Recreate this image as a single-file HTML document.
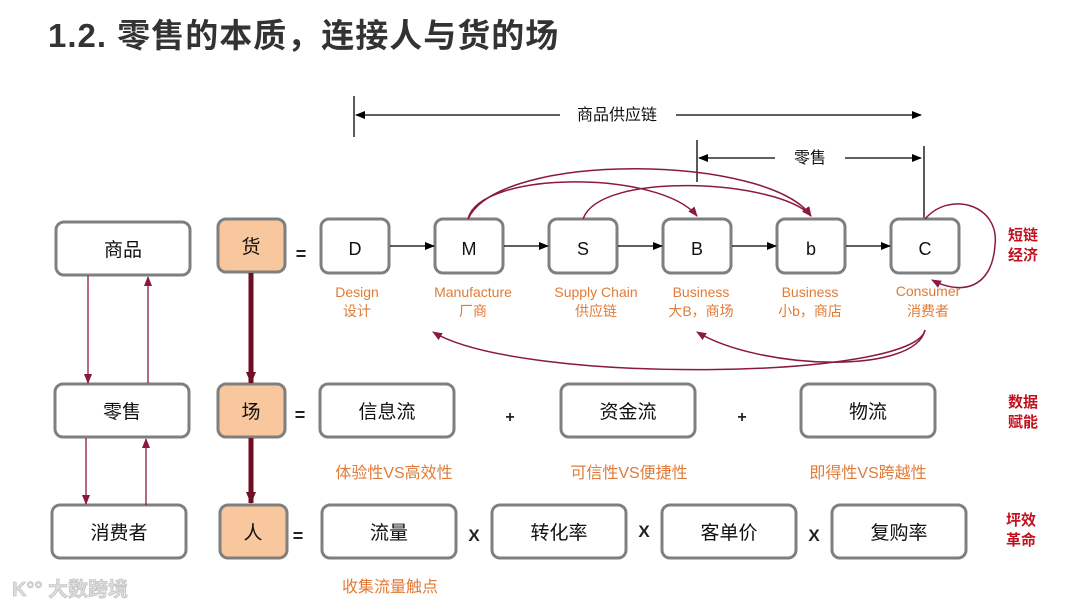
<!DOCTYPE html>
<html><head><meta charset="utf-8"><style>
html,body{margin:0;padding:0;background:#fff;}
svg{display:block;}
text{font-family:"Liberation Sans","Noto Sans CJK SC",sans-serif;}
</style></head><body>
<svg width="1080" height="609" viewBox="0 0 1080 609" xmlns="http://www.w3.org/2000/svg">
<defs>
<marker id="ab" markerWidth="10" markerHeight="8" refX="9" refY="4" orient="auto" markerUnits="userSpaceOnUse"><path d="M0,0 L10,4 L0,8 z" fill="#000"/></marker>
<marker id="ar" markerWidth="10" markerHeight="8" refX="9" refY="4" orient="auto" markerUnits="userSpaceOnUse"><path d="M0,0 L10,4 L0,8 z" fill="#8b1a3a"/></marker>
<marker id="ad" markerWidth="12" markerHeight="10" refX="11" refY="5" orient="auto" markerUnits="userSpaceOnUse"><path d="M0,0 L12,5 L0,10 z" fill="#6e0f22"/></marker>
</defs>
<text x="48" y="47" font-size="33" font-weight="bold" fill="#333" letter-spacing="1">1.2. 零售的本质，连接人与货的场</text>

<g stroke="#000" stroke-width="1.3" fill="none">
<line x1="354" y1="96" x2="354" y2="137"/>
<line x1="560" y1="115" x2="356" y2="115" marker-end="url(#ab)"/>
<line x1="676" y1="115" x2="921" y2="115" marker-end="url(#ab)"/>
<line x1="697" y1="140" x2="697" y2="182"/>
<line x1="775" y1="158" x2="699" y2="158" marker-end="url(#ab)"/>
<line x1="845" y1="158" x2="921" y2="158" marker-end="url(#ab)"/>
<line x1="924" y1="146" x2="924" y2="219"/>
</g>
<text x="617" y="120" font-size="16" text-anchor="middle" fill="#111">商品供应链</text>
<text x="810" y="163" font-size="16" text-anchor="middle" fill="#111">零售</text>

<g fill="#fff" stroke="#7f7f7f" stroke-width="3">
<rect x="56" y="222" width="134" height="53" rx="8"/>
<rect x="55" y="384" width="134" height="53" rx="8"/>
<rect x="52" y="505" width="134" height="53" rx="8"/>
</g>
<g font-size="19" text-anchor="middle" fill="#111">
<text x="123" y="256">商品</text>
<text x="122" y="418">零售</text>
<text x="119" y="539">消费者</text>
</g>
<g stroke="#8b1a3a" stroke-width="1.3">
<line x1="88" y1="276" x2="88" y2="383" marker-end="url(#ar)"/>
<line x1="148" y1="383" x2="148" y2="277" marker-end="url(#ar)"/>
<line x1="86" y1="438" x2="86" y2="504" marker-end="url(#ar)"/>
<line x1="146" y1="505" x2="146" y2="439" marker-end="url(#ar)"/>
</g>

<g fill="#f9c79d" stroke="#7f7f7f" stroke-width="3">
<rect x="218" y="219" width="67" height="53" rx="8"/>
<rect x="218" y="384" width="67" height="53" rx="8"/>
<rect x="220" y="505" width="67" height="53" rx="8"/>
</g>
<g font-size="19" text-anchor="middle" fill="#111">
<text x="251" y="253">货</text>
<text x="251" y="418">场</text>
<text x="253" y="539">人</text>
</g>
<g stroke="#6e0f22" stroke-width="5">
<line x1="251" y1="273" x2="251" y2="383" marker-end="url(#ad)"/>
<line x1="251" y1="438" x2="251" y2="503" marker-end="url(#ad)"/>
</g>
<g font-size="18" font-weight="bold" text-anchor="middle" fill="#222">
<text x="301" y="260">=</text>
<text x="300" y="421">=</text>
<text x="298" y="542">=</text>
</g>

<g fill="#fff" stroke="#7f7f7f" stroke-width="3">
<rect x="321" y="219" width="68" height="54" rx="8"/>
<rect x="435" y="219" width="68" height="54" rx="8"/>
<rect x="549" y="219" width="68" height="54" rx="8"/>
<rect x="663" y="219" width="68" height="54" rx="8"/>
<rect x="777" y="219" width="68" height="54" rx="8"/>
<rect x="891" y="219" width="68" height="54" rx="8"/>
</g>
<g font-size="18" text-anchor="middle" fill="#111">
<text x="355" y="255">D</text><text x="469" y="255">M</text><text x="583" y="255">S</text>
<text x="697" y="255">B</text><text x="811" y="255">b</text><text x="925" y="255">C</text>
</g>
<g stroke="#000" stroke-width="1.3">
<line x1="390" y1="246" x2="434" y2="246" marker-end="url(#ab)"/>
<line x1="504" y1="246" x2="548" y2="246" marker-end="url(#ab)"/>
<line x1="618" y1="246" x2="662" y2="246" marker-end="url(#ab)"/>
<line x1="732" y1="246" x2="776" y2="246" marker-end="url(#ab)"/>
<line x1="846" y1="246" x2="890" y2="246" marker-end="url(#ab)"/>
</g>
<g font-size="14" text-anchor="middle" fill="#e07b39">
<text x="357" y="297">Design</text><text x="357" y="316">设计</text>
<text x="473" y="297">Manufacture</text><text x="473" y="316">厂商</text>
<text x="596" y="297">Supply Chain</text><text x="596" y="316">供应链</text>
<text x="701" y="297">Business</text><text x="701" y="316">大B，商场</text>
<text x="810" y="297">Business</text><text x="810" y="316">小b，商店</text>
<text x="928" y="296">Consumer</text><text x="928" y="316">消费者</text>
</g>
<g stroke="#8b1a3a" stroke-width="1.5" fill="none">
<path d="M468,219 C480,170 660,170 697,216" marker-end="url(#ar)"/>
<path d="M468,219 C500,150 770,155 811,216" marker-end="url(#ar)"/>
<path d="M583,219 C600,170 780,180 811,216" marker-end="url(#ar)"/>
<path d="M925,219 C950,190 1000,205 995,245 C992,290 960,295 932,280" marker-end="url(#ar)"/>
<path d="M925,330 C915,380 520,385 433,332" marker-end="url(#ar)"/>
<path d="M925,330 C915,375 760,370 697,332" marker-end="url(#ar)"/>
</g>
<g font-size="15" font-weight="bold" fill="#c0121e">
<text x="1008" y="240">短链</text><text x="1008" y="260">经济</text>
<text x="1008" y="407">数据</text><text x="1008" y="427">赋能</text>
<text x="1006" y="525">坪效</text><text x="1006" y="545">革命</text>
</g>

<g fill="#fff" stroke="#7f7f7f" stroke-width="3">
<rect x="320" y="384" width="134" height="53" rx="8"/>
<rect x="561" y="384" width="134" height="53" rx="8"/>
<rect x="801" y="384" width="134" height="53" rx="8"/>
</g>
<g font-size="19" text-anchor="middle" fill="#111">
<text x="387" y="418">信息流</text><text x="628" y="418">资金流</text><text x="868" y="418">物流</text>
</g>
<g font-size="16" font-weight="bold" text-anchor="middle" fill="#222">
<text x="510" y="422">+</text><text x="742" y="422">+</text>
</g>
<g font-size="16" text-anchor="middle" fill="#e07b39">
<text x="394" y="478">体验性VS高效性</text>
<text x="629" y="478">可信性VS便捷性</text>
<text x="868" y="478">即得性VS跨越性</text>
</g>

<g fill="#fff" stroke="#7f7f7f" stroke-width="3">
<rect x="322" y="505" width="134" height="53" rx="8"/>
<rect x="492" y="505" width="134" height="53" rx="8"/>
<rect x="662" y="505" width="134" height="53" rx="8"/>
<rect x="832" y="505" width="134" height="53" rx="8"/>
</g>
<g font-size="19" text-anchor="middle" fill="#111">
<text x="389" y="539">流量</text><text x="559" y="539">转化率</text>
<text x="729" y="539">客单价</text><text x="899" y="539">复购率</text>
</g>
<g font-size="17" font-weight="bold" text-anchor="middle" fill="#222">
<text x="474" y="541">X</text><text x="644" y="537">X</text><text x="814" y="541">X</text>
</g>
<text x="390" y="592" font-size="16" text-anchor="middle" fill="#e07b39">收集流量触点</text>

<text x="12" y="596" font-size="20" font-weight="bold" fill="#ddd" stroke="#bbb" stroke-width="0.6">K°° 大数跨境</text>
</svg>
</body></html>
